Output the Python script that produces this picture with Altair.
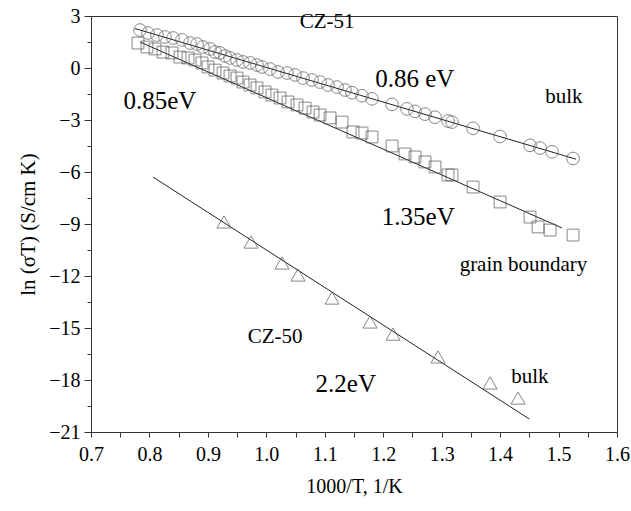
import altair as alt
import pandas as pd

# CZ-51 bulk (circles)
bulk51_x = [0.7838, 0.7975, 0.8129, 0.8266, 0.8403, 0.8557, 0.8694, 0.8814, 0.8916, 0.9036,
            0.9122, 0.9207, 0.9293, 0.9379, 0.9498, 0.9601, 0.9721, 0.9840, 0.9926, 1.0063,
            1.0200, 1.0354, 1.0491, 1.0628, 1.0782, 1.0919, 1.1055, 1.1209, 1.1346, 1.1466,
            1.1637, 1.1808, 1.2151, 1.2407, 1.2544, 1.2715, 1.2886, 1.3109, 1.3177, 1.3537,
            1.3999, 1.4512, 1.4683, 1.4888, 1.5248]
bulk51_y = [2.19, 2.02, 1.90, 1.79, 1.73, 1.62, 1.44, 1.38, 1.21, 1.10,
            0.92, 0.87, 0.69, 0.58, 0.46, 0.35, 0.29, 0.17, 0.06, -0.06,
            -0.23, -0.29, -0.40, -0.58, -0.69, -0.81, -0.98, -1.10, -1.27, -1.42,
            -1.60, -1.78, -2.10, -2.36, -2.50, -2.66, -2.84, -3.06, -3.12, -3.48,
            -3.95, -4.46, -4.62, -4.83, -5.22]

# CZ-51 grain boundary (squares)
gb51_x = [0.7804, 0.7958, 0.8095, 0.8232, 0.8386, 0.8523, 0.8660, 0.8780, 0.8899, 0.9002,
          0.9122, 0.9259, 0.9379, 0.9498, 0.9601, 0.9721, 0.9840, 0.9977, 1.0097, 1.0234,
          1.0371, 1.0525, 1.0662, 1.0799, 1.0919, 1.1090, 1.1295, 1.1483, 1.1637, 1.1808,
          1.2151, 1.2373, 1.2544, 1.2715, 1.2886, 1.3109, 1.3177, 1.3537, 1.3999, 1.4512,
          1.4649, 1.4854, 1.5248]
gb51_y = [1.44, 1.21, 1.10, 0.92, 0.87, 0.63, 0.58, 0.46, 0.29, 0.06,
          -0.12, -0.29, -0.46, -0.58, -0.81, -0.98, -1.15, -1.38, -1.56, -1.73,
          -1.96, -2.13, -2.31, -2.54, -2.71, -2.88, -3.12, -3.69, -3.75, -3.98,
          -4.50, -4.96, -5.13, -5.42, -5.71, -6.17, -6.17, -6.87, -7.73, -8.60,
          -9.17, -9.35, -9.64]

# CZ-50 bulk (triangles)
bulk50_x = [0.9276, 0.9738, 1.0268, 1.0542, 1.1124, 1.1774, 1.2168, 1.2938, 1.3828, 1.4307]
bulk50_y = [-8.88, -10.04, -11.25, -11.94, -13.27, -14.65, -15.35, -16.67, -18.17, -19.04]

# Fitted lines (end points)
fit51b_x = [0.775, 1.530]
fit51b_y = [2.28, -5.26]
fit51g_x = [0.784, 1.506]
fit51g_y = [1.50, -9.23]
fit50b_x = [0.806, 1.450]
fit50b_y = [-6.29, -20.25]

# Annotations
big_text = ["0.86 eV", "0.85eV", "1.35eV", "2.2eV"]
big_x = [1.254, 0.818, 1.260, 1.136]
big_y = [-0.63, -1.90, -8.60, -18.23]
small_text = ["CZ-51", "bulk", "grain boundary", "CZ-50", "bulk"]
small_x = [1.104, 1.509, 1.440, 1.015, 1.451]
small_y = [2.65, -1.67, -11.37, -15.52, -17.83]

x_ticks = [0.7, 0.75, 0.8, 0.85, 0.9, 0.95, 1.0, 1.05, 1.1, 1.15, 1.2, 1.25, 1.3, 1.35,
           1.4, 1.45, 1.5, 1.55, 1.6]
y_ticks = [3, 1.5, 0, -1.5, -3, -4.5, -6, -7.5, -9, -10.5, -12, -13.5, -15, -16.5,
           -18, -19.5, -21]

FONT = "Liberation Serif"
INK = "#333333"

xs = alt.Scale(domain=[0.7, 1.6], nice=False, zero=False)
ys = alt.Scale(domain=[-21, 3], nice=False, zero=False)

xaxis = alt.Axis(
    values=x_ticks, title="1000/T, 1/K", grid=False,
    labelExpr="round(datum.value*100) % 10 === 0 ? format(datum.value, '.1f') : ''",
    labelOverlap=False, labelFlush=False, labelFont=FONT, labelFontSize=20,
    labelColor="black", titleFont=FONT, titleFontSize=20, titleFontWeight="normal",
    titleColor="black", titlePadding=12, tickSize=5, tickColor=INK, domainColor=INK,
    labelPadding=7,
)
yaxis = alt.Axis(
    values=y_ticks, title="ln (σT) (S/cm K)", grid=False,
    labelExpr="datum.value % 3 === 0 ? format(datum.value, 'd') : ''",
    labelOverlap=False, labelFlush=False, labelFont=FONT, labelFontSize=20,
    labelColor="black", titleFont=FONT, titleFontSize=21, titleFontWeight="normal",
    titleColor="black", titlePadding=10,
    tickSize={"condition": {"test": "datum.value % 3 === 0", "value": 7}, "value": 4},
    tickColor=INK, domainColor=INK, labelPadding=4,
)

d51b = pd.DataFrame({"x": bulk51_x, "y": bulk51_y})
d51g = pd.DataFrame({"x": gb51_x, "y": gb51_y})
d50b = pd.DataFrame({"x": bulk50_x, "y": bulk50_y})

base_enc = dict(x=alt.X("x:Q", scale=xs, axis=xaxis), y=alt.Y("y:Q", scale=ys, axis=yaxis))

circles = alt.Chart(d51b).mark_point(shape="circle", filled=False, size=160,
                                     color="#555555", strokeWidth=1).encode(**base_enc)
squares = alt.Chart(d51g).mark_point(shape="square", filled=False, size=140,
                                     color="#555555", strokeWidth=1).encode(**base_enc)
triangles = alt.Chart(d50b).mark_point(shape="triangle-up", filled=False, size=200,
                                       color="#555555", strokeWidth=1).encode(**base_enc)

def fit_line(xv, yv):
    return alt.Chart(pd.DataFrame({"x": xv, "y": yv})).mark_line(
        color="#222222", strokeWidth=1).encode(**base_enc)

lines = fit_line(fit51b_x, fit51b_y) + fit_line(fit51g_x, fit51g_y) + fit_line(fit50b_x, fit50b_y)

big = alt.Chart(pd.DataFrame({"t": big_text, "x": big_x, "y": big_y})).mark_text(
    font=FONT, fontSize=25, color="black").encode(**base_enc, text="t:N")
small = alt.Chart(pd.DataFrame({"t": small_text, "x": small_x, "y": small_y})).mark_text(
    font=FONT, fontSize=21, color="black").encode(**base_enc, text="t:N")

chart = (lines + circles + squares + triangles + big + small).properties(
    width=526, height=416,
    autosize=alt.AutoSizeParams(type="none"),
    padding={"left": 91, "top": 16, "right": 14, "bottom": 79},
).configure_view(stroke=INK, strokeWidth=1)

chart.save("out.html", embed_options={"renderer": "svg", "actions": False})
